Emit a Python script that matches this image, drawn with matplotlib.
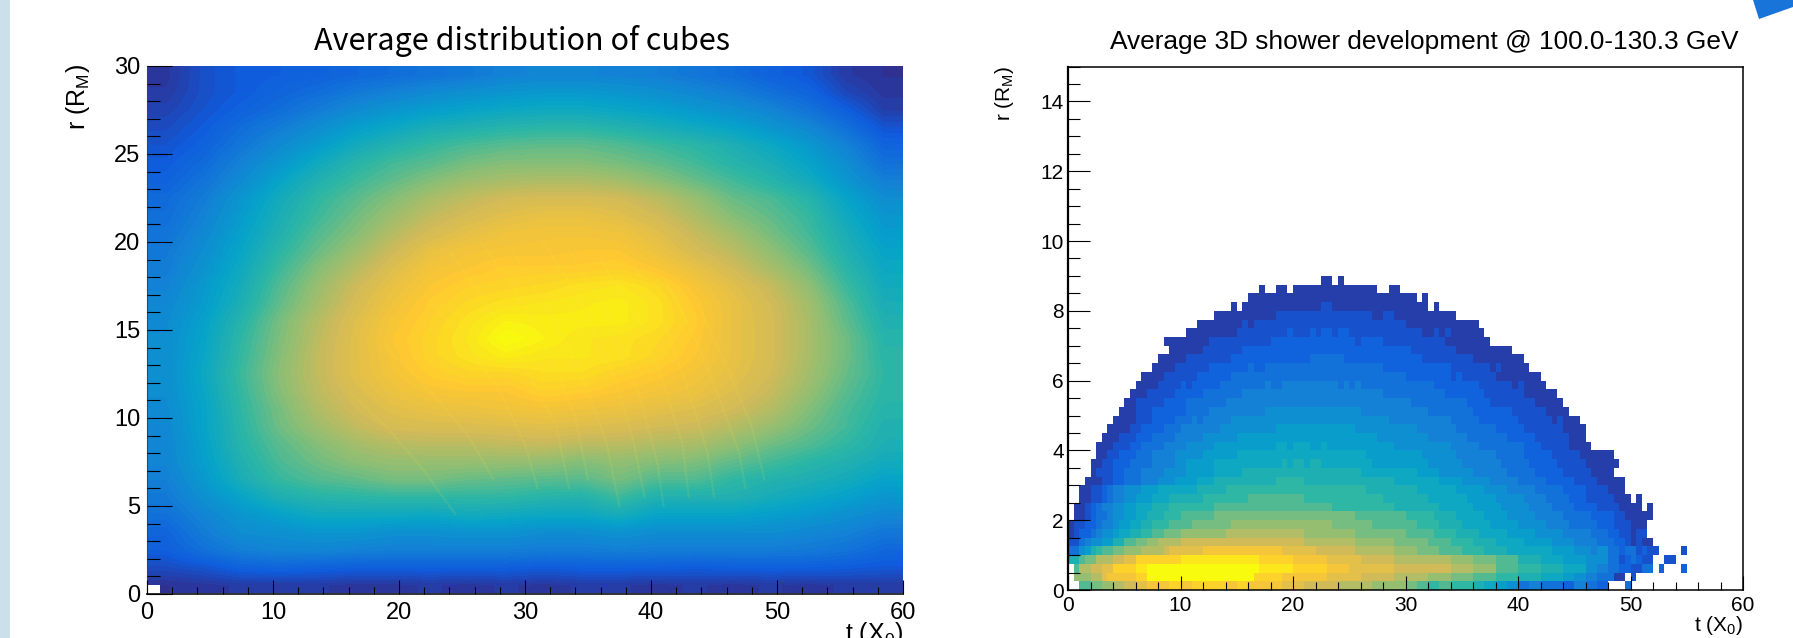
#!/usr/bin/env python3
import matplotlib
matplotlib.use("Agg")
import matplotlib.pyplot as plt
from matplotlib.colors import LinearSegmentedColormap
from matplotlib.patches import Polygon, Rectangle
from matplotlib.ticker import MultipleLocator
import numpy as np

plt.rcParams["font.family"] = ["Liberation Sans", "DejaVu Sans"]
plt.rcParams["mathtext.fontset"] = "custom"
plt.rcParams["mathtext.rm"] = "Liberation Sans"
plt.rcParams["mathtext.default"] = "rm"

W, H = 1793, 638

# ROOT kBird palette
bird_r = [0.2082, 0.0592, 0.0780, 0.0232, 0.1802, 0.5301, 0.8186, 0.9956, 0.9764]
bird_g = [0.1664, 0.3599, 0.5041, 0.6419, 0.7178, 0.7492, 0.7328, 0.7862, 0.9832]
bird_b = [0.5293, 0.8684, 0.8385, 0.7914, 0.6425, 0.4662, 0.3499, 0.1968, 0.0539]

left_title = "Average distribution of cubes"
right_title = "Average 3D shower development @ 100.0-130.3 GeV"

# left panel: colour position 0-100, rows from r=0.5 up to r=29.5, columns t=1.5 ... 58.5
cube_density = np.array([
    [3, 4, 5, 5, 5, 4, 4, 5, 4, 5, 4, 5, 5, 4, 5, 4, 5, 4, 5, 5],
    [9, 11, 15, 16, 15, 14, 14, 14, 14, 14, 13, 14, 14, 14, 13, 14, 14, 14, 13, 12],
    [14, 20, 25, 27, 27, 26, 25, 25, 25, 25, 24, 24, 25, 24, 24, 24, 24, 23, 21, 17],
    [16, 24, 30, 31, 33, 33, 31, 31, 32, 32, 30, 30, 32, 30, 30, 30, 30, 28, 26, 22],
    [20, 27, 33, 37, 41, 41, 41, 40, 42, 41, 40, 40, 43, 38, 38, 38, 36, 34, 31, 28],
    [23, 31, 38, 45, 48, 49, 50, 50, 50, 50, 48, 47, 52, 46, 46, 46, 43, 40, 37, 33],
    [25, 34, 44, 51, 55, 57, 60, 60, 58, 57, 56, 56, 60, 55, 55, 50, 47, 45, 42, 38],
    [27, 36, 46, 54, 59, 63, 65, 65, 65, 65, 64, 62, 64, 62, 61, 57, 53, 49, 46, 42],
    [27, 37, 48, 56, 62, 67, 70, 71, 71, 72, 73, 71, 71, 69, 68, 64, 59, 55, 50, 45],
    [28, 38, 49, 59, 66, 72, 76, 77, 77, 78, 79, 78, 77, 75, 74, 70, 65, 59, 53, 46],
    [29, 38, 50, 60, 69, 75, 79, 81, 82, 83, 84, 83, 82, 80, 78, 75, 70, 62, 54, 48],
    [30, 39, 51, 62, 71, 77, 82, 85, 86, 86, 89, 88, 86, 84, 82, 78, 73, 65, 56, 49],
    [30, 40, 52, 63, 72, 79, 84, 88, 90, 90, 92, 92, 89, 87, 84, 80, 75, 67, 58, 50],
    [30, 39, 51, 62, 72, 79, 85, 90, 93, 96, 94, 94, 93, 90, 86, 81, 76, 68, 59, 49],
    [30, 38, 50, 61, 71, 79, 86, 90, 94, 100, 97, 94, 93, 91, 87, 81, 76, 68, 59, 48],
    [29, 37, 48, 60, 70, 78, 85, 89, 93, 97, 96, 96, 96, 93, 88, 81, 76, 68, 57, 46],
    [28, 35, 45, 57, 67, 76, 83, 88, 91, 93, 94, 95, 96, 93, 87, 81, 75, 67, 55, 44],
    [26, 34, 43, 55, 65, 74, 81, 86, 89, 90, 91, 93, 94, 91, 85, 79, 73, 64, 52, 42],
    [24, 32, 41, 52, 62, 70, 78, 84, 86, 88, 88, 88, 89, 86, 81, 75, 68, 60, 49, 40],
    [23, 30, 39, 49, 58, 66, 74, 81, 84, 85, 85, 86, 86, 82, 76, 71, 64, 56, 46, 38],
    [21, 28, 37, 46, 55, 62, 70, 76, 80, 83, 84, 84, 83, 79, 73, 67, 60, 53, 44, 35],
    [19, 26, 35, 44, 52, 59, 66, 72, 76, 79, 81, 81, 79, 75, 69, 62, 57, 51, 41, 33],
    [18, 24, 33, 42, 50, 56, 62, 68, 72, 75, 76, 76, 75, 71, 65, 58, 54, 48, 38, 30],
    [15, 21, 29, 38, 46, 52, 57, 62, 66, 68, 69, 69, 67, 63, 58, 53, 48, 42, 33, 25],
    [13, 18, 26, 33, 41, 48, 53, 56, 60, 62, 62, 62, 60, 57, 53, 48, 44, 38, 30, 20],
    [11, 15, 22, 29, 35, 42, 47, 51, 54, 56, 57, 57, 55, 52, 49, 45, 40, 34, 26, 16],
    [9, 13, 19, 24, 30, 36, 40, 44, 46, 48, 49, 49, 47, 44, 41, 38, 33, 28, 20, 11],
    [7, 11, 15, 19, 24, 29, 33, 36, 38, 40, 41, 41, 39, 37, 34, 31, 27, 21, 14, 6],
    [5, 10, 13, 16, 19, 23, 26, 29, 31, 33, 34, 34, 33, 31, 28, 25, 20, 16, 8, 4],
    [4, 10, 13, 14, 15, 17, 19, 21, 23, 26, 27, 27, 26, 25, 22, 19, 15, 12, 5, 3],
], dtype=float)

# the faint arcs that run across the left map, as t and r along each arc
streak_t = [
    [16.0, 19.0, 22.0, 24.5],
    [19.0, 22.5, 25.5, 27.5],
    [22.0, 25.0, 28.0, 30.0, 31.0],
    [24.0, 27.0, 30.0, 32.5, 33.5],
    [26.5, 29.5, 32.0, 34.0, 35.0],
    [29.0, 32.0, 34.5, 36.5, 37.5],
    [31.5, 34.5, 37.0, 38.5, 39.5],
    [33.5, 36.5, 39.0, 40.5, 41.0],
    [36.0, 39.0, 41.0, 42.5, 43.0],
    [38.5, 41.0, 43.0, 44.5, 45.0],
    [41.0, 43.5, 45.5, 47.0, 47.5],
    [44.0, 46.0, 48.0, 49.0],
]
streak_r = [
    [11.5, 9.5, 7.0, 4.5],
    [14.0, 11.5, 9.0, 6.5],
    [17.0, 14.5, 11.5, 8.5, 6.0],
    [19.5, 16.5, 13.0, 9.5, 6.0],
    [20.0, 17.0, 13.5, 10.0, 6.5],
    [19.5, 16.0, 12.5, 8.5, 5.0],
    [20.0, 16.5, 12.5, 9.0, 5.5],
    [19.5, 16.0, 11.5, 7.5, 5.0],
    [19.0, 15.5, 12.0, 8.5, 5.5],
    [19.0, 15.5, 11.5, 8.0, 5.5],
    [18.0, 14.5, 11.0, 8.0, 6.0],
    [16.0, 13.0, 9.5, 6.5],
]

# right panel: one entry per r row (0.25 wide, from r=0 up).
# "start level end level end ...": a..t are the 20 colour levels, "." leaves the bins empty
shower_runs = [
    "1 k 2 l 3 m 4 n 5 o 6 p 7 q 9 r 10 q 11 r 14 q 15 r 16 q 19 p 21 o 24 n 27 m 30 l 31 k 32 j 33 k 34 j 36 i 37 h 38 g 39 f 40 d 41 e 42 d 44 c 45 e 46 d 47 c 48 . 49.5 d 50",
    "0.5 m 2 n 3 p 3.5 q 6 r 7 t 16.5 r 19 q 23 p 26 o 29 n 32 m 34 l 36 k 38 j 40 i 42 h 44 g 45 f 46 e 47 d 48.5 a 49.5 . 50 b 50.5",
    "0.5 k 1 n 2 o 3 p 4 r 6 s 7 t 17 s 20 r 23 q 25 p 29 o 34 n 36 m 38 k 40 j 42 i 44 h 46 f 47 e 48 d 49 c 50 b 51 d 52 . 52.5 c 53 . 54.5 c 55",
    "0 i 1 k 1.5 l 2.5 n 4 o 5 p 6 r 10 s 17 r 20 q 23 p 26 o 29 n 34 m 36 l 38 k 40 i 42 h 44 g 46 f 48 d 49 b 49.5 c 50 d 50.5 c 51 b 52 . 53 b 54",
    "0 d 1 f 1.5 g 2 i 2.5 j 3 k 4 l 5 m 6.5 n 8.5 o 9 p 12 q 19 p 22 o 25.5 n 29 m 31 l 33 k 35 j 37 i 39 h 43 g 45 f 46.5 e 47 f 48 d 49 c 49.5 d 50.5 b 51 c 51.5 b 52.5 . 54.5 b 55",
    "0 b 1 d 1.5 e 2 f 3 g 4 i 5 k 6 l 7 m 8 n 10 o 21 n 25.5 m 29 l 32 k 34 j 36 i 38 h 40.5 g 43 f 45 e 47 d 48.5 c 49.5 b 50 a 50.5 b 51 a 52",
    "0 a 0.5 b 1 c 2 d 2.5 e 3 f 4 g 4.5 h 5.5 i 6.5 j 7.5 k 8.5 l 10 m 14 n 21 m 25.5 l 30 k 32.5 j 34.5 i 36.5 h 39 g 41.5 f 44 e 46.5 d 48 c 49 b 50 a 50.5 b 51.5",
    "0 a 0.5 b 1.5 c 2.5 d 3 e 4 f 4.5 g 5.5 h 6.5 i 7.5 j 9 k 11 l 14.5 m 23.5 l 27 k 31 j 33 i 35 h 37.5 g 40 f 42.5 e 44.5 d 47 c 48.5 b 50 a 51.5",
    "0.5 a 1.5 b 2 c 2.5 d 3.5 e 4 f 5 g 6 h 7 i 8.5 j 10 k 13 l 25.5 k 30 j 32.5 i 34.5 h 37 g 39 f 41.5 e 44 d 46.5 c 48.5 b 49.5 a 52",
    "0.5 a 1.5 b 2 c 2.5 d 3 e 4 f 5 g 6 h 7.5 i 9 j 13 k 23.5 j 29 i 33 h 36 g 38.5 f 41 e 43 d 45 c 47 b 49 a 51 . 51.5 a 52",
    "1 a 2 b 3 c 3.5 d 4 e 5 f 6 g 7.5 h 9 i 12 j 16 k 21 j 28 i 32 h 35.5 g 38 f 40.5 e 42.5 d 44.5 c 46 b 48.5 a 50 . 50.5 a 51",
    "1 a 2 b 3 c 3.5 d 4 e 5 f 6.5 g 8 h 11.5 i 14 j 26.5 i 31 h 34.5 g 37 f 39 e 41.5 d 44 c 46 b 48 a 49.5",
    "1.5 a 3 b 4 c 5 d 6.5 e 8 f 9.5 g 11.5 h 13 i 18.5 j 21 i 29 h 33 g 35 f 37.5 e 40 d 42.5 c 45 b 47 a 49.5",
    "2 a 2.5 b 4 c 5 d 6.5 e 8.5 f 10.5 g 13 h 15.5 i 26 h 31 g 33 f 36 e 39 d 41.5 c 44 b 46.5 a 48.5",
    "2 a 3 b 4 c 5.5 d 7.5 e 9.5 f 10.5 g 13 h 19 i 19.5 h 20 i 21 h 21.5 i 22.5 h 27 g 32 f 35 e 38.5 d 41 c 43.5 b 46 a 49",
    "2.5 a 3.5 b 4.5 c 6 d 7.5 e 9.5 f 12 g 15 h 26.5 g 31.5 f 34.5 e 38 d 40.5 c 43 b 45.5 a 48.5",
    "2.5 a 4 b 5.5 c 6.5 d 8.5 e 10.5 f 13 g 18.5 h 19.5 g 20 h 21.5 g 22.5 h 23 g 29 f 34 e 36.5 d 40.5 c 42 b 44.5 a 46.5",
    "3 a 4.5 b 6 c 7.5 d 9.5 e 12 f 15 g 27.5 f 32 e 35.5 d 39 c 41.5 b 44.5 a 46",
    "3.5 a 5.5 b 6.5 c 8.5 d 10 e 13.5 f 18.5 g 25.5 f 31 e 34.5 d 38 c 40.5 b 44 a 46",
    "4 a 6 b 7.5 c 9.5 d 11 e 11.5 d 12 e 14.5 f 28.5 e 34 d 36.5 c 40 b 43 a 43.5 b 44 a 45.5",
    "4.5 a 6 b 7.5 c 10.5 d 12.5 e 17.5 f 26 e 32 d 36 c 39.5 b 42.5 a 44.5",
    "5 a 6 b 8.5 c 10.5 d 14 e 30.5 d 35.5 c 37.5 b 41.5 a 44",
    "5.5 a 7 b 9.5 c 12 d 15.5 e 28 d 33.5 c 37 b 40.5 a 43.5",
    "6 a 8 b 10 c 10.5 b 11 c 13.5 d 17.5 e 18 d 19 e 24 d 24.5 e 25 d 25.5 e 26 d 32.5 c 36.5 b 39.5 a 40 b 40.5 a 42.5",
    "6.5 a 8.5 b 11.5 c 14.5 d 30 c 34 b 34.5 c 35 b 38 a 42",
    "7.5 a 9.5 b 12.5 c 16 d 16.5 c 17.5 d 28 c 34 b 37.5 a 38 b 38.5 a 41",
    "8 a 10.5 b 14.5 c 21.5 d 24.5 c 31.5 b 36 a 40.5",
    "9 a 12 b 15.5 c 30.5 b 34.5 a 39.5",
    "8.5 a 12.5 b 18 c 25.5 b 26 c 28 b 33.5 a 37.5",
    "10.5 a 15 b 19.5 c 20 b 21.5 c 22 b 22.5 c 23.5 b 24 c 25 b 31.5 a 32.5 b 33 a 33.5 b 34 a 37",
    "11.5 a 15.5 b 16 a 16.5 b 30 a 36.5",
    "13 a 18.5 b 27 a 28 b 29 a 34.5",
    "14.5 a 15 . 15.5 a 22.5 b 23.5 a 32 . 32.5 a 33",
    "16 a 31 . 31.5 a 32",
    "17 a 17.5 . 18.5 a 19.5 . 20 a 27.5 . 28.5 a 29.5",
    "22.5 a 23.5 . 24 a 24.5",
]

LEVELS = "abcdefghijklmnopqrst"


def bird_cmap(n):
    colors = list(zip(bird_r, bird_g, bird_b))
    return LinearSegmentedColormap.from_list("bird", colors, N=n)


def runs_to_grid(runs, bins_per_t=2):
    grid = np.full((len(runs), 60 * bins_per_t), np.nan)
    for i, row in enumerate(runs):
        parts = row.split()
        start = float(parts[0])
        for level, end in zip(parts[1::2], parts[2::2]):
            end = float(end)
            if level != ".":
                grid[i, int(start * bins_per_t):int(end * bins_per_t)] = LEVELS.index(level) + 1.5
            start = end
    return grid


def axes_px(fig, x0, x1, top, bottom):
    return fig.add_axes([x0 / W, 1 - bottom / H, (x1 - x0) / W, (bottom - top) / H])


def root_ticks(ax, xmajor, xminor, ymajor, yminor, xlen, ylen, size, xpad, ypad):
    # ticks point inwards and sit on top of the map, like a ROOT canvas
    ax.xaxis.set_major_locator(MultipleLocator(xmajor))
    ax.xaxis.set_minor_locator(MultipleLocator(xminor))
    ax.yaxis.set_major_locator(MultipleLocator(ymajor))
    ax.yaxis.set_minor_locator(MultipleLocator(yminor))
    ax.tick_params(axis="x", which="major", direction="in", length=xlen[0] * 0.72, width=0.8,
                   labelsize=size, pad=xpad)
    ax.tick_params(axis="x", which="minor", direction="in", length=xlen[1] * 0.72, width=0.8)
    ax.tick_params(axis="y", which="major", direction="in", length=ylen[0] * 0.72, width=0.8,
                   labelsize=size, pad=ypad)
    ax.tick_params(axis="y", which="minor", direction="in", length=ylen[1] * 0.72, width=0.8)
    ax.set_axisbelow(False)


def main():
    fig = plt.figure(figsize=(W / 100, H / 100), dpi=100)

    # slide decoration around the two plots
    fig.add_artist(Rectangle((0, 0), 9.5 / W, 1, transform=fig.transFigure, color="#cce0ec", lw=0))
    wedge = [(1753 / W, 1), (1, 1), (1, 1 - 7 / H), (1759 / W, 1 - 19 / H)]
    fig.add_artist(Polygon(wedge, closed=True, transform=fig.transFigure, color="#1874d8", lw=0))

    # left map
    ax1 = axes_px(fig, 147, 903, 66, 594)
    ax1.imshow(cube_density, origin="lower", extent=(0, 60, 0, 30), aspect="auto",
               cmap=bird_cmap(64), vmin=0, vmax=100,
               interpolation="bilinear", interpolation_stage="data")
    for ts, rs in zip(streak_t, streak_r):
        ax1.plot(ts, rs, color="#ffe84a", lw=1.6, alpha=0.10, solid_capstyle="round")
    ax1.add_patch(Rectangle((0, 0), 1, 0.5, color="white", lw=0))
    ax1.set_xlim(0, 60)
    ax1.set_ylim(0, 30)
    root_ticks(ax1, 10, 2, 5, 1, (14, 7), (25, 13), 17, 6, 5)
    ax1.spines["top"].set_visible(False)
    ax1.spines["right"].set_visible(False)
    ax1.spines["left"].set_color("#444444")
    ax1.spines["bottom"].set_color("#333333")
    ax1.spines["bottom"].set_linewidth(1.4)
    fig.text(522 / W, 1 - 41 / H, left_title, ha="center", va="center", fontsize=22,
             family=["Noto Sans CJK JP", "DejaVu Sans"])
    fig.text(78 / W, 1 - 64 / H, "r (R$_{M}$)", rotation=90, ha="center", va="top", fontsize=18)
    fig.text(903 / W, 1 - 620 / H, "t (X$_{0}$)", ha="right", va="top", fontsize=18)

    # right map
    ax2 = axes_px(fig, 1068, 1743, 66.5, 590)
    grid = runs_to_grid(shower_runs)
    t_edges = np.arange(grid.shape[1] + 1) * 0.5
    r_edges = np.arange(grid.shape[0] + 1) * 0.25
    ax2.pcolormesh(t_edges, r_edges, np.ma.masked_invalid(grid), cmap=bird_cmap(21),
                   vmin=0, vmax=21, shading="flat", linewidth=0)
    ax2.set_xlim(0, 60)
    ax2.set_ylim(0, 15)
    root_ticks(ax2, 10, 2, 2, 0.5, (14, 8), (22, 12), 15, 4, 3)
    for s in ax2.spines.values():
        s.set_linewidth(1.1)
    ax2.spines["left"].set_linewidth(1.6)
    fig.text(1424 / W, 1 - 42 / H, right_title, ha="center", va="center", fontsize=18.9)
    fig.text(1005 / W, 1 - 66 / H, "r (R$_{M}$)", rotation=90, ha="center", va="top", fontsize=15)
    fig.text(1743 / W, 1 - 614 / H, "t (X$_{0}$)", ha="right", va="top", fontsize=15)

    fig.savefig("out.png", dpi=100)


if __name__ == "__main__":
    main()
